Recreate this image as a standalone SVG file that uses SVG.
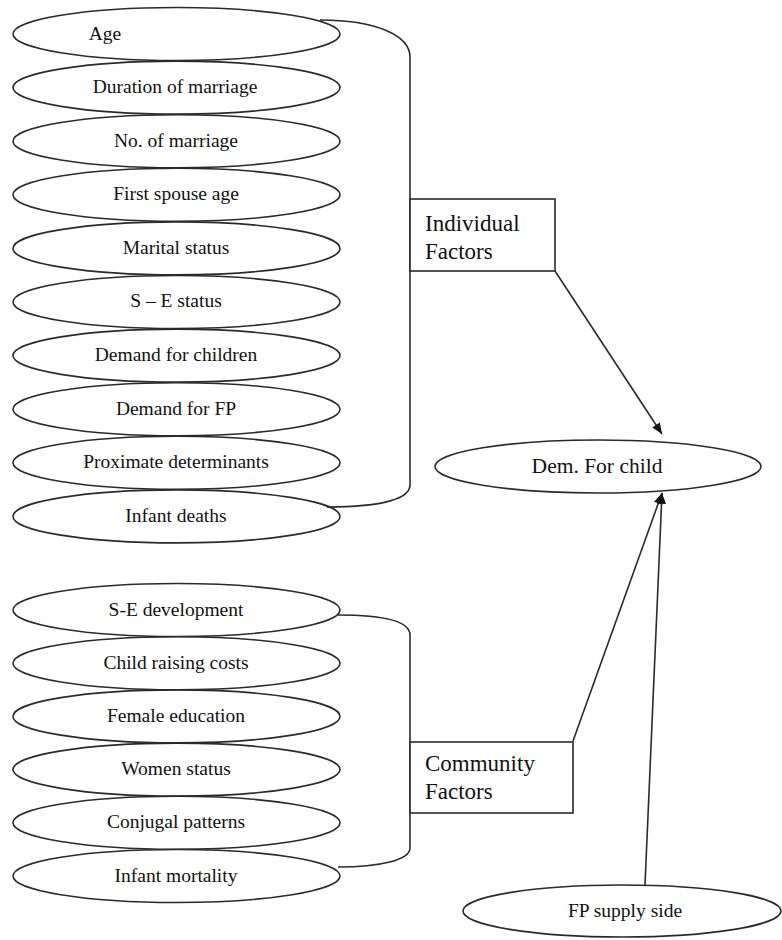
<svg xmlns="http://www.w3.org/2000/svg" width="782" height="940" viewBox="0 0 782 940">
<defs>
<style>
.e{fill:none;stroke:#2a2a2a;stroke-width:1.6}
.t{font-family:"Liberation Serif","Times New Roman",serif;font-size:19.5px;fill:#111;text-anchor:middle}
.b{fill:#fff;stroke:#2a2a2a;stroke-width:1.6}
.bt{font-family:"Liberation Serif","Times New Roman",serif;font-size:23px;fill:#111}
.c{fill:none;stroke:#2a2a2a;stroke-width:1.6}
</style>
<marker id="ah" viewBox="0 0 12 10" refX="12" refY="5" markerWidth="12" markerHeight="9" markerUnits="userSpaceOnUse" orient="auto">
<path d="M0,0 L12,5 L0,10 z" fill="#111"/>
</marker>
</defs>
<rect width="782" height="940" fill="#fff"/>
<g id="connectors">
<path class="c" d="M320,20 C375,20 410,35 410,57 L410,485 C410,498 385,507 327,507"/>
<path class="c" d="M338,615 C380,615 410,620 410,635 L410,848 C410,860 380,867 338,867"/>
<line class="c" x1="555" y1="271" x2="662" y2="434" marker-end="url(#ah)"/>
<line class="c" x1="573" y1="741" x2="662" y2="493" marker-end="url(#ah)"/>
<line class="c" x1="645" y1="885" x2="662" y2="493" marker-end="url(#ah)"/>
</g>
<g id="age"><ellipse class="e" cx="176.5" cy="34" rx="163.5" ry="26.5"/><text class="t" x="105" y="40">Age</text></g>
<g id="duration"><ellipse class="e" cx="176.5" cy="87.6" rx="163.5" ry="26.5"/><text class="t" x="175" y="93">Duration of marriage</text></g>
<g id="nomarriage"><ellipse class="e" cx="176.5" cy="141.2" rx="163.5" ry="26.5"/><text class="t" x="176" y="147">No. of marriage</text></g>
<g id="firstspouse"><ellipse class="e" cx="176.5" cy="194.8" rx="163.5" ry="26.5"/><text class="t" x="176" y="200">First spouse age</text></g>
<g id="marital"><ellipse class="e" cx="176.5" cy="248.4" rx="163.5" ry="26.5"/><text class="t" x="176" y="254">Marital status</text></g>
<g id="sestatus"><ellipse class="e" cx="176.5" cy="302" rx="163.5" ry="26.5"/><text class="t" x="176" y="307">S – E status</text></g>
<g id="demchildren"><ellipse class="e" cx="176.5" cy="355.6" rx="163.5" ry="26.5"/><text class="t" x="176" y="361">Demand for children</text></g>
<g id="demfp"><ellipse class="e" cx="176.5" cy="409.2" rx="163.5" ry="26.5"/><text class="t" x="176" y="415">Demand for FP</text></g>
<g id="proximate"><ellipse class="e" cx="176.5" cy="462.8" rx="163.5" ry="26.5"/><text class="t" x="176" y="468">Proximate determinants</text></g>
<g id="infantdeaths"><ellipse class="e" cx="176.5" cy="516.4" rx="163.5" ry="26.5"/><text class="t" x="176" y="522">Infant deaths</text></g>
<g id="sedev"><ellipse class="e" cx="176.5" cy="610" rx="163.5" ry="26.5"/><text class="t" x="176" y="616">S-E development</text></g>
<g id="childcosts"><ellipse class="e" cx="176.5" cy="663.2" rx="163.5" ry="26.5"/><text class="t" x="176" y="669">Child raising costs</text></g>
<g id="femaleedu"><ellipse class="e" cx="176.5" cy="716.4" rx="163.5" ry="26.5"/><text class="t" x="176" y="722">Female education</text></g>
<g id="womenstatus"><ellipse class="e" cx="176.5" cy="769.6" rx="163.5" ry="26.5"/><text class="t" x="176" y="775">Women status</text></g>
<g id="conjugal"><ellipse class="e" cx="176.5" cy="822.8" rx="163.5" ry="26.5"/><text class="t" x="176" y="828">Conjugal patterns</text></g>
<g id="infantmort"><ellipse class="e" cx="176.5" cy="876" rx="163.5" ry="26.5"/><text class="t" x="176" y="882">Infant mortality</text></g>
<g id="individual"><rect class="b" x="410" y="199" width="145" height="72"/><text class="bt" x="425" y="231">Individual</text><text class="bt" x="425" y="259">Factors</text></g>
<g id="community"><rect class="b" x="410" y="742" width="163" height="71"/><text class="bt" x="425" y="771">Community</text><text class="bt" x="425" y="799">Factors</text></g>
<g id="demchild"><ellipse class="e" cx="598" cy="466.5" rx="163" ry="26.5"/><text class="t" style="font-size:21.5px" x="597" y="473">Dem. For child</text></g>
<g id="fpsupply"><ellipse class="e" cx="622" cy="911" rx="159" ry="26"/><text class="t" x="625" y="917">FP supply side</text></g>
</svg>
